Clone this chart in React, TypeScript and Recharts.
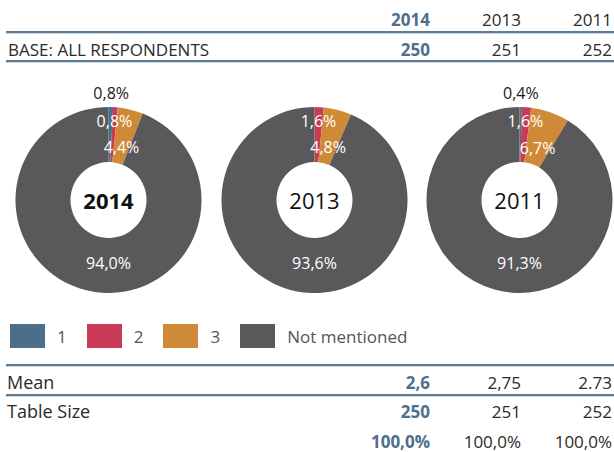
import React from 'react';
import { PieChart, Pie, Cell } from 'recharts';

const YEARS = ['2014', '2013', '2011'];
const BASE = ['250', '251', '252'];
const MEAN = ['2,6', '2,75', '2.73'];
const TABLE_SIZE = ['250', '251', '252'];
const TOTALS = ['100,0%', '100,0%', '100,0%'];
const CATEGORIES = ['1', '2', '3', 'Not mentioned'];
const VALUES_2014 = [0.8, 0.8, 4.4, 94.0];
const VALUES_2013 = [0, 1.6, 4.8, 93.6];
const VALUES_2011 = [0.4, 1.6, 6.7, 91.3];
const SERIES = [VALUES_2014, VALUES_2013, VALUES_2011];

const COLORS = ['#4b6e8a', '#c93a54', '#cf8a38', '#59595b'];
const ACCENT = '#4f6f8b';
const FONT = '"Open Sans", sans-serif';
const W = 614;
const H = 452;
const COL_RIGHT = [430, 521, 612];
const PIE_CX = [103.5, 309.5, 514.5];
const PIE_CY = 195;
const LABEL_R = [107, 79, 55];

const fmt = (v: number) => v.toFixed(1).replace('.', ',') + '%';

function Txt({ x, y, text, anchor = 'start', bold = false, color = '#2a2a2a', size = 17 }: any) {
  const style: React.CSSProperties = {
    position: 'absolute',
    top: y - size * 0.5,
    fontSize: size,
    lineHeight: `${size}px`,
    fontFamily: FONT,
    fontWeight: bold ? 700 : 400,
    color,
    whiteSpace: 'nowrap',
  };
  if (anchor === 'end') {
    style.right = W - x;
    style.textAlign = 'right';
  } else {
    style.left = x;
  }
  return <div style={style}>{text}</div>;
}

function Rule({ y }: { y: number }) {
  return (
    <>
      <div style={{ position: 'absolute', left: 6, width: W - 6, top: y, height: 2, background: '#5d7c95' }} />
      <div style={{ position: 'absolute', left: 6, width: W - 6, top: y + 2, height: 1, background: '#cdd6de' }} />
    </>
  );
}

const RADIAN = Math.PI / 180;

function makeLabel(year: string, bold: boolean) {
  return (props: any) => {
    const { cx, cy, midAngle, index, value } = props;
    const parts: React.ReactNode[] = [];
    if (index === 3) {
      parts.push(
        <text
          key="c"
          x={cx}
          y={cy}
          textAnchor="middle"
          dominantBaseline="central"
          fontSize={22}
          fontFamily={FONT}
          fontWeight={bold ? 700 : 400}
          fill="#111"
        >
          {year}
        </text>
      );
    }
    if (value) {
      let x: number;
      let y: number;
      if (index === 3) {
        x = cx;
        y = cy + 63;
      } else {
        const r = LABEL_R[index];
        x = cx + r * Math.cos(-midAngle * RADIAN);
        y = cy + r * Math.sin(-midAngle * RADIAN);
      }
      parts.push(
        <text
          key="v"
          x={x}
          y={y}
          textAnchor="middle"
          dominantBaseline="central"
          fill={index === 0 ? '#1a1a1a' : '#ffffff'}
          fontSize={16}
          fontFamily={FONT}
        >
          {fmt(value)}
        </text>
      );
    }
    return <g key={`l-${year}-${index}`}>{parts}</g>;
  };
}

export default function App() {
  return (
    <div style={{ position: 'absolute', left: 0, top: 0, width: W, height: H, background: '#fff', overflow: 'hidden' }}>
      <div style={{ position: 'absolute', left: 0, top: 0 }}>
        <PieChart width={W} height={H}>
          {SERIES.map((vals, si) => (
            <Pie
              key={YEARS[si]}
              data={vals.map((v, i) => ({ name: CATEGORIES[i], value: v }))}
              dataKey="value"
              nameKey="name"
              cx={PIE_CX[si]}
              cy={PIE_CY}
              innerRadius={38}
              outerRadius={93}
              startAngle={90}
              endAngle={-270}
              stroke="none"
              isAnimationActive={false}
              labelLine={false}
              label={makeLabel(YEARS[si], si === 0)}
            >
              {vals.map((_, i) => (
                <Cell key={i} fill={COLORS[i]} />
              ))}
            </Pie>
          ))}
        </PieChart>
      </div>

      {/* header */}
      {YEARS.map((y, i) => (
        <Txt key={'h' + i} x={COL_RIGHT[i]} y={19} text={y} anchor="end" bold={i === 0} color={i === 0 ? ACCENT : '#2a2a2a'} />
      ))}
      <Rule y={31} />
      <Txt x={8} y={49.5} text="BASE: ALL RESPONDENTS" size={17} />
      {BASE.map((v, i) => (
        <Txt key={'b' + i} x={COL_RIGHT[i]} y={49.5} text={v} anchor="end" bold={i === 0} color={i === 0 ? ACCENT : '#2a2a2a'} />
      ))}
      <Rule y={60} />

      {/* legend */}
      <div style={{ position: 'absolute', left: 10, top: 324, display: 'flex', alignItems: 'center', fontFamily: FONT, fontSize: 17, color: '#555' }}>
        {CATEGORIES.map((c, i) => (
          <div key={c} style={{ display: 'flex', alignItems: 'center', marginRight: 20 }}>
            <div style={{ width: 35, height: 24, background: COLORS[i], marginRight: 12 }} />
            <span>{c}</span>
          </div>
        ))}
      </div>

      {/* bottom table */}
      <Rule y={364} />
      <Txt x={7} y={382} text="Mean" size={18} />
      {MEAN.map((v, i) => (
        <Txt key={'m' + i} x={COL_RIGHT[i]} y={382} text={v} anchor="end" bold={i === 0} color={i === 0 ? ACCENT : '#2a2a2a'} />
      ))}
      <Rule y={394} />
      <Txt x={7} y={411} text="Table Size" size={18} />
      {TABLE_SIZE.map((v, i) => (
        <Txt key={'t' + i} x={COL_RIGHT[i]} y={411} text={v} anchor="end" bold={i === 0} color={i === 0 ? ACCENT : '#2a2a2a'} />
      ))}
      {TOTALS.map((v, i) => (
        <Txt key={'p' + i} x={COL_RIGHT[i]} y={441} text={v} anchor="end" bold={i === 0} color={i === 0 ? ACCENT : '#2a2a2a'} />
      ))}
    </div>
  );
}
